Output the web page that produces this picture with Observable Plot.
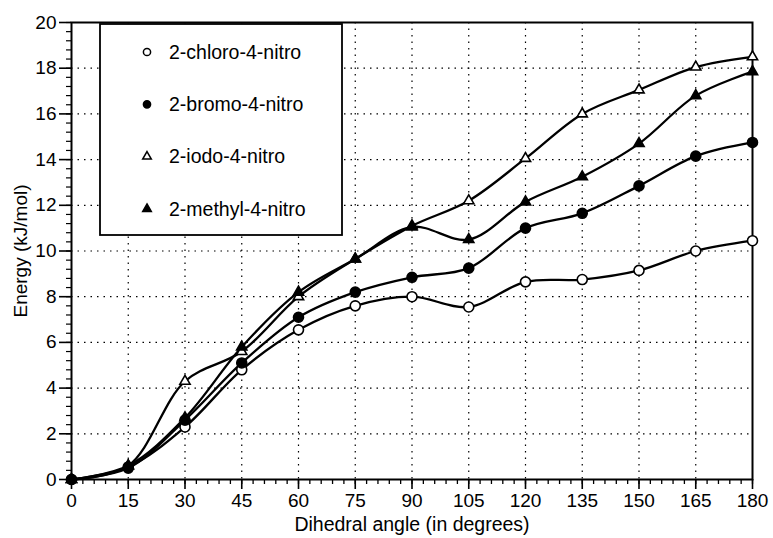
<!DOCTYPE html>
<html>
<head>
<meta charset="utf-8">
<script src="https://cdn.jsdelivr.net/npm/d3@7"></script>
<script src="https://cdn.jsdelivr.net/npm/@observablehq/plot@0.6"></script>
<style>
  html, body { margin: 0; padding: 0; background: #fff; }
  #chart { position: relative; width: 773px; height: 538px; }
</style>
</head>
<body>
<div id="chart"></div>
<script>
const angles = [0, 15, 30, 45, 60, 75, 90, 105, 120, 135, 150, 165, 180];
const chloro = [0, 0.55, 2.3, 4.8, 6.55, 7.6, 8.0, 7.55, 8.65, 8.75, 9.15, 10.0, 10.45];
const bromo  = [0, 0.5, 2.6, 5.1, 7.1, 8.2, 8.85, 9.25, 11.0, 11.65, 12.85, 14.15, 14.75];
const iodo   = [0, 0.6, 4.3, 5.6, 8.0, 9.65, 11.1, 12.2, 14.05, 16.0, 17.05, 18.05, 18.5];
const methyl = [0, 0.6, 2.7, 5.8, 8.2, 9.65, 11.05, 10.5, 12.15, 13.25, 14.7, 16.8, 17.85];
const seriesNames = ["2-chloro-4-nitro", "2-bromo-4-nitro", "2-iodo-4-nitro", "2-methyl-4-nitro"];
const seriesSymbols = ["circle", "circle", "triangle", "triangle"];
const seriesFills = ["white", "black", "white", "black"];
const xTicks = [0, 15, 30, 45, 60, 75, 90, 105, 120, 135, 150, 165, 180];
const yTicks = [0, 2, 4, 6, 8, 10, 12, 14, 16, 18, 20];
const xLabel = "Dihedral angle (in degrees)";
const yLabel = "Energy (kJ/mol)";

const values = [chloro, bromo, iodo, methyl];
const rows = [];
values.forEach((vals, si) => vals.forEach((v, i) => rows.push({series: seriesNames[si], si, x: angles[i], y: v})));

const font = "'Liberation Sans', Arial, sans-serif";

const marks = [
  Plot.gridX(xTicks.slice(1, -1), {stroke: "black", strokeOpacity: 1, strokeDasharray: "1.5,5", strokeWidth: 1.2}),
  Plot.gridY(yTicks.slice(1, -1), {stroke: "black", strokeOpacity: 1, strokeDasharray: "1.5,5", strokeWidth: 1.2}),
  // minor ticks
  Plot.axisX(d3.range(0, 181, 3), {tickSize: 5, text: null, label: null, strokeWidth: 1.3}),
  Plot.axisY(d3.range(0, 20.01, 0.4), {tickSize: 5, text: null, label: null, strokeWidth: 1.2}),
  Plot.axisX(xTicks, {tickSize: 10, tickPadding: 4, fontSize: 19, label: null, strokeWidth: 1.6}),
  Plot.axisY(yTicks, {tickSize: 12, tickPadding: 3, fontSize: 19, label: null, strokeWidth: 1.6}),
  Plot.frame({stroke: "black", strokeWidth: 2}),
  Plot.text([xLabel], {frameAnchor: "bottom", lineAnchor: "middle", textAnchor: "middle", dy: 45, text: d => d, fontSize: 19.5}),
  Plot.text([yLabel], {frameAnchor: "left", lineAnchor: "middle", textAnchor: "middle", dx: -51, rotate: -90, text: d => d, fontSize: 19}),
];
seriesNames.forEach((name, si) => {
  const d = rows.filter(r => r.si === si);
  marks.push(Plot.line(d, {x: "x", y: "y", curve: "catmull-rom", stroke: "black", strokeWidth: 2.3}));
});
seriesNames.forEach((name, si) => {
  const d = rows.filter(r => r.si === si);
  marks.push(Plot.dot(d, {
    x: "x", y: "y",
    symbol: () => seriesSymbols[si],
    r: seriesSymbols[si] === "circle" ? 5 : 3.8,
    fill: seriesFills[si], stroke: "black", strokeWidth: 1.6
  }));
});

const svg = Plot.plot({
  width: 773,
  height: 538,
  marginLeft: 71,
  marginRight: 21,
  marginTop: 22,
  marginBottom: 59,
  style: {fontFamily: font, background: "white", color: "black"},
  x: {domain: [0, 180]},
  y: {domain: [0, 20]},
  symbol: {type: "identity"},
  marks
});
document.getElementById("chart").appendChild(svg);

// Legend box inside the plot (upper left)
const s = d3.select(svg);
const lg = s.append("g").attr("font-family", font).attr("text-anchor", "start");
lg.append("rect").attr("x", 100).attr("y", 24).attr("width", 242).attr("height", 211)
  .attr("fill", "white").attr("stroke", "black").attr("stroke-width", 1.8);
seriesNames.forEach((name, i) => {
  const cy = 52 + i * 52.3;
  const type = seriesSymbols[i] === "circle" ? d3.symbolCircle : d3.symbolTriangle;
  const size = seriesSymbols[i] === "circle" ? Math.PI * 3.6 * 3.6 : Math.PI * 3.2 * 3.2;
  lg.append("path").attr("d", d3.symbol(type, size)())
    .attr("transform", `translate(147,${cy})`)
    .attr("fill", seriesFills[i]).attr("stroke", "black").attr("stroke-width", 1.5);
  lg.append("text").attr("x", 169).attr("y", cy).attr("dy", "0.35em")
    .attr("text-anchor", "start")
    .attr("font-size", 19.5).attr("fill", "black").text(name);
});
</script>
</body>
</html>
